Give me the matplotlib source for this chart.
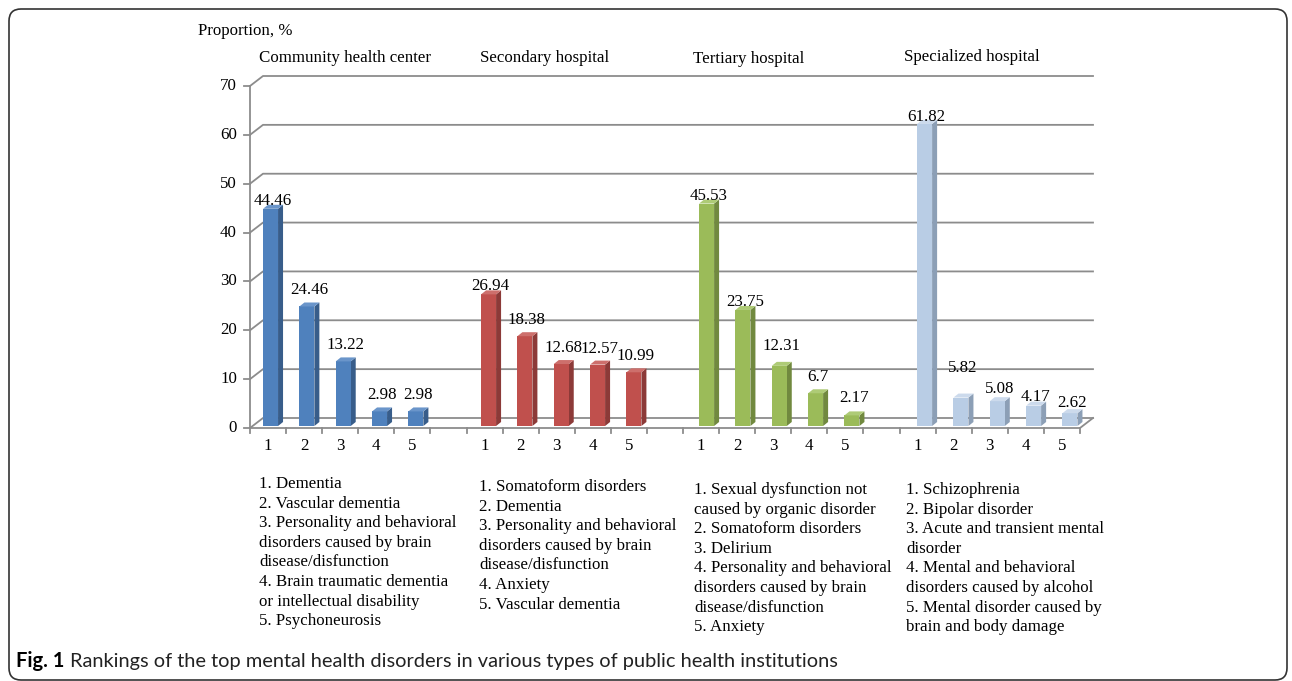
import matplotlib.pyplot as plt
from matplotlib.lines import Line2D
from matplotlib.patches import Polygon, FancyBboxPatch
from matplotlib.transforms import IdentityTransform, ScaledTranslation

# data
groups = ["Community health center", "Secondary hospital", "Tertiary hospital", "Specialized hospital"]
ranks = ["1", "2", "3", "4", "5"]
chc = [44.46, 24.46, 13.22, 2.98, 2.98]
sec = [26.94, 18.38, 12.68, 12.57, 10.99]
ter = [45.53, 23.75, 12.31, 6.7, 2.17]
spe = [61.82, 5.82, 5.08, 4.17, 2.62]
values = [chc, sec, ter, spe]

legend_chc = ["1. Dementia", "2. Vascular dementia", "3. Personality and behavioral",
              "disorders caused by brain", "disease/disfunction", "4. Brain traumatic dementia",
              "or intellectual disability", "5. Psychoneurosis"]
legend_sec = ["1. Somatoform disorders", "2. Dementia", "3. Personality and behavioral",
              "disorders caused by brain", "disease/disfunction", "4. Anxiety", "5. Vascular dementia"]
legend_ter = ["1. Sexual dysfunction not", "caused by organic disorder", "2. Somatoform disorders",
              "3. Delirium", "4. Personality and behavioral", "disorders caused by brain",
              "disease/disfunction", "5. Anxiety"]
legend_spe = ["1. Schizophrenia", "2. Bipolar disorder", "3. Acute and transient mental",
              "disorder", "4. Mental and behavioral", "disorders caused by alcohol",
              "5. Mental disorder caused by", "brain and body damage"]
legends = [legend_chc, legend_sec, legend_ter, legend_spe]

# styling / layout (pixels)
front_col = ['#4F81BD', '#C0504D', '#9BBB59', '#B9CDE5']
side_col = ['#385D8A', '#8C3A38', '#71893F', '#8C9FB6']
top_col = ['#6A95CA', '#CD6F6C', '#AECB76', '#CCDAEC']
title_xy = [(259, 58), (480, 58), (693, 59), (904, 57)]
legend_xy = [(259, 484), (479, 487), (694, 490), (906, 490)]
label_dy = [[8, 16, 16, 16, 16], [8, 16, 16, 16, 16], [8, 8, 20, 16, 17], [7, 30, 12, 9, 10]]
line_gap = 19.6
grid_c = '#8C8C8C'
fs = 12.2

W, H = 1292, 681
plt.rcParams['font.family'] = ['Liberation Serif', 'DejaVu Serif']
fig = plt.figure(figsize=(W / 100, H / 100), dpi=100)
ax = fig.add_axes([250 / W, 1 - 428 / H, 830 / W, (428 - 86) / H])
ax.set_xlim(0, 23)
ax.set_ylim(0, 70)
ax.axis('off')
ax.patch.set_visible(False)
ax.set_zorder(5)

DX, DY = 13, 10      # back wall depth
BX, BY = 5, 4        # bar depth
slot_px = 830 / 23


def to_px(x, y):
    return ax.transData.transform((x, y))


def dline(xs, ys, **kw):
    kw.setdefault('color', grid_c)
    kw.setdefault('lw', 1.3)
    fig.add_artist(Line2D(xs, ys, transform=IdentityTransform(), zorder=1, **kw))


# walls, gridlines, axes
x_left, y_zero = to_px(0, 0)
x_right, y_top = to_px(23, 70)
for v in range(0, 71, 10):
    x0, y0 = to_px(0, v)
    dline([x0, x0 + DX, x_right + DX], [y0, y0 + DY, y0 + DY])
    dline([x0 - 6, x0], [y0, y0])
    fig.text((x0 - 13) / W, y0 / H, str(v), ha='right', va='center', fontsize=fs)
dline([x_left, x_left], [y_zero, y_top])
dline([x_left, x_right, x_right + DX], [y_zero, y_zero, y_zero + DY])
for k in range(24):
    xk, _ = to_px(k, 0)
    dline([xk, xk], [y_zero, y_zero - 5])

fig.text(198 / W, 1 - 31 / H, "Proportion, %", ha='left', va='center', fontsize=fs)

# bars
bw = 15 / slot_px
for g, vals in enumerate(values):
    slots = [g * 6 + r for r in range(5)]
    xc = [s + 0.5 + (2.5 + 0.25 * s) / slot_px for s in slots]
    lift = ScaledTranslation(0, 2 / 100, fig.dpi_scale_trans)
    bars = ax.bar(xc, vals, width=bw, color=front_col[g], linewidth=0, zorder=3)
    for p in bars:
        p.set_transform(ax.transData + lift)
    for r, (x, v) in enumerate(zip(xc, vals)):
        xl, yb = to_px(x - bw / 2, 0)
        xr, yt = to_px(x + bw / 2, v)
        yb += 2
        yt += 2
        side = Polygon([(xr, yb), (xr, yt), (xr + BX, yt + BY), (xr + BX, yb + BY)],
                       closed=True, facecolor=side_col[g], edgecolor='none',
                       transform=IdentityTransform(), clip_on=False, zorder=2)
        top = Polygon([(xl, yt), (xr, yt), (xr + BX, yt + BY), (xl + BX, yt + BY)],
                      closed=True, facecolor=top_col[g], edgecolor='none',
                      transform=IdentityTransform(), clip_on=False, zorder=4)
        ax.add_patch(side)
        ax.add_patch(top)
        off = ScaledTranslation(2 / 100, (2 + label_dy[g][r]) / 100, fig.dpi_scale_trans)
        ax.text(x, v, str(v), ha='center', va='center', fontsize=fs,
                transform=ax.transData + off, zorder=6)
        tick_off = ScaledTranslation(0, -18 / 100, fig.dpi_scale_trans)
        ax.text(slots[r] + 0.5, 0, ranks[r], ha='center', va='center', fontsize=fs,
                transform=ax.transData + tick_off)

    tx, ty = title_xy[g]
    fig.text(tx / W, 1 - ty / H, groups[g], ha='left', va='center', fontsize=fs)
    lx, ly = legend_xy[g]
    for i, line in enumerate(legends[g]):
        fig.text(lx / W, 1 - (ly + i * line_gap) / H, line, ha='left', va='center', fontsize=fs)

# caption
cap_font = ['Lato', 'DejaVu Sans']
renderer = fig.canvas.get_renderer()
t1 = fig.text(16 / W, 1 - 661 / H, "Fig. 1", ha='left', va='center', fontsize=14.5,
              fontweight='bold', family=cap_font)
e1 = t1.get_window_extent(renderer)
t2 = fig.text((e1.x1 + 6) / W, 1 - 661 / H,
              "Rankings of the top mental health disorders in various types of public health institutions",
              ha='left', va='center', fontsize=14, family=cap_font, color='#222222')
e2 = t2.get_window_extent(renderer)
t2.set_fontsize(14 * (843 - e1.x1 - 6) / e2.width)

# rounded frame
frame = FancyBboxPatch((9, 1), 1278, H - 10, boxstyle='round,pad=0,rounding_size=12',
                       facecolor='none', edgecolor='#333333', lw=1.2,
                       transform=IdentityTransform(), zorder=0)
fig.add_artist(frame)

fig.savefig('out.png', dpi=100)
